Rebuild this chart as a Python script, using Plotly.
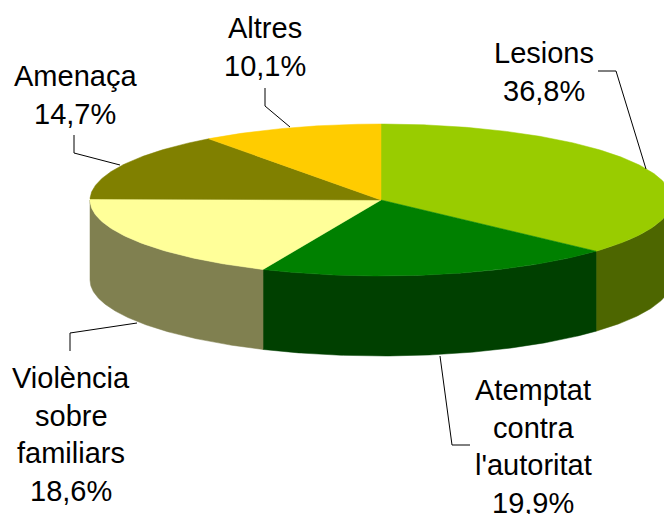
import numpy as np
import plotly.graph_objects as go

# Data
categories = ["Lesions", "Atemptat contra l'autoritat", "Violència sobre familiars", "Amenaça", "Altres"]
values = [36.8, 19.9, 18.6, 14.7, 10.1]
value_labels = ["36,8%", "19,9%", "18,6%", "14,7%", "10,1%"]
top_colors = ["#99CC00", "#008000", "#FFFF99", "#808000", "#FFCC00"]
side_colors = ["#4D6600", "#004000", "#808050", "#404000", "#806600"]

# Label layout: text lines per slice and their centre positions
label_lines = [
    ["Lesions", "36,8%"],
    ["Atemptat", "contra", "l'autoritat", "19,9%"],
    ["Violència", "sobre", "familiars", "18,6%"],
    ["Amenaça", "14,7%"],
    ["Altres", "10,1%"],
]
label_cx = [544, 533, 71, 75, 265]
label_cy = [53, 390, 378, 76, 28]
line_gap = 37.6
FONT_SIZE = 29

leaders = [
    ([598, 616, 646], [71, 71, 169]),
    ([440, 452, 470], [356, 445, 445]),
    ([70, 70, 137], [351, 333, 323]),
    ([74, 74, 120], [135, 153, 165]),
    ([265, 265, 290], [88, 106, 127]),
]

# Pie geometry in page pixels
CX, CY, RX, RY, DEPTH = 381, 200, 291, 76, 80


def arc(a0, a1, dy=0.0):
    t = np.radians(np.linspace(a0, a1, max(2, int(abs(a1 - a0) * 2) + 1)))
    return CX + RX * np.sin(t), CY - RY * np.cos(t) + dy


fig = go.Figure()
edges = np.concatenate([[0], np.cumsum(values)]) / np.sum(values) * 360

# Front wall, only the part of each slice between 90 and 270 degrees shows
for i in range(len(values)):
    a0, a1 = max(edges[i], 90), min(edges[i + 1], 270)
    if a1 <= a0:
        continue
    xt, yt = arc(a0, a1)
    xb, yb = arc(a1, a0, DEPTH)
    fig.add_trace(go.Scatter(
        x=np.concatenate([xt, xb, xt[:1]]), y=np.concatenate([yt, yb, yt[:1]]),
        mode="lines", fill="toself", fillcolor=side_colors[i],
        line=dict(color=side_colors[i], width=0.5), hoverinfo="skip", showlegend=False))

# Top face
for i in range(len(values)):
    xa, ya = arc(edges[i], edges[i + 1])
    fig.add_trace(go.Scatter(
        x=np.concatenate([[CX], xa, [CX]]), y=np.concatenate([[CY], ya, [CY]]),
        mode="lines", fill="toself", fillcolor=top_colors[i],
        line=dict(color=top_colors[i], width=0.5), name=categories[i],
        text=value_labels[i], hoverinfo="name+text", showlegend=False))

# Leader lines
for lx, ly in leaders:
    fig.add_trace(go.Scatter(x=lx, y=ly, mode="lines", line=dict(color="#000000", width=1),
                             hoverinfo="skip", showlegend=False))

# Labels, one annotation per line for the wide line spacing
for lines, cx, cy in zip(label_lines, label_cx, label_cy):
    for k, txt in enumerate(lines):
        fig.add_annotation(x=cx, y=cy + k * line_gap, text=txt, showarrow=False,
                           xanchor="center", yanchor="middle",
                           font=dict(family="Liberation Sans", size=FONT_SIZE, color="#000000"))

fig.update_layout(
    width=664, height=514, margin=dict(l=0, r=0, t=0, b=0),
    paper_bgcolor="white", plot_bgcolor="white", showlegend=False,
    xaxis=dict(range=[0, 664], visible=False, fixedrange=True),
    yaxis=dict(range=[514, 0], visible=False, fixedrange=True),
)
fig.write_html("out.html", config={"displayModeBar": False},
               post_script="document.body.style.margin='0';document.body.style.overflow='hidden';")
